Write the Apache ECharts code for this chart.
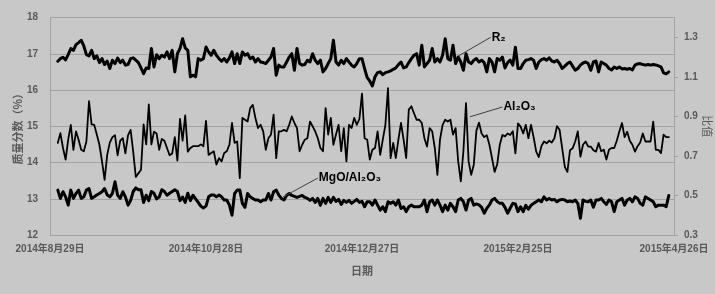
<!DOCTYPE html>
<html><head><meta charset="utf-8">
<script src="https://cdn.jsdelivr.net/npm/echarts@6/dist/echarts.min.js"></script>
<style>html,body{margin:0;padding:0;background:#c8c8c8;}#c{width:715px;height:294px;}</style>
</head><body><div id="c"></div>
<script>
// x axis: days counted from 2014-08-29; data are daily from 2014-09-01 (day 3)
const axisStartDate = '2014-08-29';
const firstDataDate = '2014-09-01';
const xTickLabels = ['2014年8月29日','2014年10月28日','2014年12月27日','2015年2月25日','2015年4月26日'];
const seriesNames = ['R₂', 'Al₂O₃', 'MgO/Al₂O₃'];

// R2 ratio (right axis)
const r2 = [
1.179,1.192,1.199,1.186,1.212,1.243,1.234,1.263,1.273,1.285,1.256,1.212,1.206,1.234,1.192,1.206,1.172,1.192,1.162,1.179,1.142,1.184,1.167,1.195,1.172,1.184,1.159,1.162,
1.192,1.196,1.184,1.172,1.145,1.116,1.145,1.142,1.243,1.15,1.212,1.192,1.209,1.2,1.226,1.192,1.234,1.125,1.217,1.243,1.293,1.246,1.234,1.10,1.108,1.10,1.192,1.184,1.192,1.251,
1.226,1.209,1.234,1.209,1.192,1.179,1.192,1.175,1.196,1.226,1.167,1.217,1.167,1.226,1.209,1.217,1.192,1.2,1.175,1.192,1.175,1.172,1.167,1.184,1.2,1.243,1.108,1.159,1.15,1.15,
1.175,1.2,1.217,1.133,1.243,1.167,1.159,1.162,1.184,1.175,1.217,1.184,1.167,1.184,1.125,1.142,1.167,1.192,1.285,1.175,1.159,1.184,1.167,1.192,1.175,1.159,1.15,1.167,1.192,1.192,
1.142,1.096,1.078,1.054,1.10,1.121,1.125,1.111,1.121,1.125,1.13,1.138,1.145,1.162,1.175,1.145,1.15,1.172,1.192,1.209,1.217,1.159,1.26,1.15,1.167,1.184,1.243,1.175,1.192,1.175,
1.209,1.293,1.192,1.184,1.26,1.167,1.2,1.175,1.133,1.217,1.175,1.167,1.184,1.192,1.175,1.184,1.172,1.125,1.192,1.175,1.125,1.192,1.184,1.2,1.145,1.172,1.184,1.159,1.25,1.142,
1.142,1.167,1.184,1.187,1.192,1.184,1.142,1.175,1.187,1.192,1.184,1.196,1.18,1.175,1.184,1.167,1.142,1.154,1.167,1.175,1.154,1.133,1.142,1.159,1.17,1.175,1.167,1.133,1.175,1.18,
1.125,1.175,1.167,1.159,1.142,1.135,1.15,1.142,1.15,1.14,1.142,1.138,1.142,1.135,1.159,1.165,1.167,1.162,1.159,1.162,1.159,1.162,1.16,1.155,1.15,1.12,1.115,1.125
];

// Al2O3 mass fraction % (left axis)
const al2o3 = [
14.54,14.81,14.40,14.08,14.63,15.04,14.35,14.86,14.63,14.35,14.31,14.58,15.69,15.05,15.04,14.77,14.49,14.03,13.52,14.21,14.55,14.70,14.75,14.20,14.60,14.67,14.25,14.75,
14.9,14.3,13.6,13.7,13.8,15.05,14.5,15.6,14.5,14.85,14.8,14.35,14.65,14.6,14.4,14.2,14.25,14.7,14.05,15.2,14.6,15.3,14.3,14.4,14.45,14.45,14.45,14.5,14.45,15.15,
14.21,14.26,14.31,13.94,14.12,14.03,14.26,14.31,14.49,15.09,14.54,14.58,13.57,15.23,15.18,15.13,15.5,15.59,15.23,14.95,15.04,14.86,14.35,14.67,14.77,15.32,14.12,14.86,14.86,14.9,
14.86,15.04,15.27,15.09,14.95,14.31,14.49,14.63,14.67,15.13,15.0,14.86,14.67,14.4,14.31,15.5,14.77,15.23,14.49,14.77,15.04,14.31,14.95,14.03,15.04,14.95,15.23,15.04,15.2,15.9,
14.67,14.63,14.08,14.35,14.4,14.86,14.21,14.63,15.04,16.05,14.12,14.54,14.12,14.63,15.09,14.63,14.12,15.46,15.55,15.36,15.18,15.18,15.09,14.67,14.44,14.95,14.86,14.4,13.66,14.63,
15.04,15.18,15.13,15.18,14.77,14.95,14.03,13.48,14.31,15.64,14.03,13.66,13.94,14.88,15.1,14.8,14.7,14.75,14.49,14.12,13.74,13.95,14.49,14.76,14.72,14.8,14.76,14.86,14.25,15.08,
14.99,14.8,15.04,14.67,15.04,14.7,14.3,14.15,14.45,14.58,14.53,14.6,14.55,14.67,15.0,14.9,14.39,13.88,13.74,14.34,14.39,14.58,14.86,14.16,14.49,14.58,14.44,14.44,14.34,14.3,
14.54,14.31,14.35,14.08,14.35,14.4,14.4,14.6,14.86,15.09,14.7,14.85,14.6,14.49,14.3,14.45,14.55,14.8,14.58,14.58,14.58,15.13,14.35,14.35,14.26,14.77,14.7,14.7
];

// MgO/Al2O3 ratio (right axis)
const mgoAl2o3 = [
0.527,0.485,0.519,0.493,0.451,0.527,0.485,0.510,0.527,0.485,0.493,0.527,0.535,0.485,0.493,0.502,0.510,0.519,0.535,0.502,0.493,0.510,0.569,0.502,0.485,0.519,0.493,0.451,
0.474,0.52,0.538,0.529,0.529,0.465,0.501,0.474,0.52,0.511,0.483,0.492,0.529,0.52,0.501,0.511,0.52,0.529,0.52,0.474,0.492,0.465,0.511,0.474,0.501,0.483,0.465,0.446,0.437,0.446,
0.493,0.502,0.502,0.493,0.502,0.493,0.477,0.477,0.451,0.40,0.51,0.527,0.527,0.46,0.44,0.51,0.493,0.485,0.477,0.477,0.468,0.477,0.477,0.51,0.477,0.519,0.527,0.502,0.485,0.477,
0.50,0.51,0.50,0.495,0.49,0.495,0.50,0.49,0.485,0.475,0.485,0.465,0.485,0.45,0.485,0.46,0.49,0.465,0.49,0.47,0.48,0.455,0.475,0.465,0.475,0.46,0.47,0.48,0.465,0.47,
0.443,0.468,0.468,0.451,0.477,0.451,0.426,0.443,0.418,0.468,0.46,0.468,0.451,0.477,0.434,0.443,0.418,0.443,0.451,0.443,0.443,0.443,0.451,0.477,0.418,0.468,0.477,0.451,0.477,0.451,
0.418,0.451,0.426,0.46,0.443,0.418,0.477,0.485,0.468,0.426,0.477,0.485,0.451,0.457,0.452,0.44,0.41,0.435,0.452,0.477,0.485,0.469,0.46,0.46,0.44,0.41,0.435,0.46,0.457,0.418,
0.443,0.418,0.45,0.43,0.45,0.46,0.468,0.477,0.468,0.493,0.477,0.485,0.477,0.48,0.468,0.477,0.48,0.477,0.468,0.472,0.468,0.477,0.46,0.385,0.477,0.47,0.468,0.477,0.44,0.477,
0.477,0.485,0.468,0.455,0.477,0.468,0.418,0.468,0.477,0.485,0.451,0.477,0.485,0.468,0.493,0.485,0.46,0.451,0.493,0.485,0.477,0.468,0.443,0.451,0.451,0.451,0.443,0.50
];

// annotation leader lines: [from, to] in axis units (day, value)
const leaders = [
  [[157, 1.205], [169.5, 1.300]],
  [[161.5, 15.26], [174, 15.53]],
  [[89.6, 0.492], [103, 0.588]]
];

const DAY = 86400000;
const parseUTC = s => { const p = s.split('-').map(Number); return Date.UTC(p[0], p[1]-1, p[2]); };
const dayOffset = (parseUTC(firstDataDate) - parseUTC(axisStartDate)) / DAY;
const toPairs = arr => arr.map((v, i) => [dayOffset + i, v]);

const tickFont = {color:'#595959', fontSize:10, fontWeight:'bold', fontFamily:"'Liberation Sans','Noto Sans CJK SC',sans-serif"};
const gray = '#a3a3a3';

function makeSeries(idx, data, yAxisIndex, width) {
  return {
    name: seriesNames[idx], type:'line', yAxisIndex, data: toPairs(data),
    symbol:'none', lineStyle:{color:'#000', width, join:'round', cap:'round'},
    itemStyle:{color:'#000'}, animation:false, z: 3,
    markLine: {
      silent:true, symbol:['none','none'], animation:false,
      lineStyle:{color:'#404040', width:1, type:'solid'},
      label:{show:false},
      data:[[{coord: leaders[idx][0]}, {coord: leaders[idx][1]}]]
    },
    markPoint: {
      silent:true, symbol:'circle', symbolSize:0, animation:false,
      label:{show:true, position:'right', distance:1, formatter: seriesNames[idx],
        color:'#000', fontSize:12, fontWeight:'bold', fontFamily:"'Liberation Sans','DejaVu Sans',sans-serif"},
      data:[{coord: leaders[idx][1]}]
    }
  };
}

const chart = echarts.init(document.getElementById('c'), null, {renderer:'canvas'});
chart.setOption({
  backgroundColor:'#c8c8c8',
  animation:false,
  grid:{left:50, right:41, top:17.5, bottom:59, containLabel:false, outerBoundsMode:'none'},
  xAxis:{
    type:'value', min:0, max:240, interval:60,
    name:'日期', nameLocation:'middle', nameGap:30,
    nameTextStyle:{color:'#595959', fontSize:11, fontWeight:'bold', fontFamily:"'Noto Sans CJK SC',sans-serif"},
    axisLine:{show:true, lineStyle:{color:gray, width:1}},
    axisTick:{show:false},
    splitLine:{show:false},
    axisLabel:Object.assign({margin:9, formatter: v => xTickLabels[Math.round(v/60)] || ''}, tickFont)
  },
  yAxis:[{
    type:'value', min:12, max:18, interval:1, position:'left',
    name:'质量分数（%）', nameLocation:'middle', nameGap:27, nameMoveOverlap:false,
    nameTextStyle:{color:'#595959', fontSize:11, fontWeight:'bold', fontFamily:"'Noto Sans CJK SC',sans-serif"},
    axisLine:{show:true, lineStyle:{color:gray, width:1}},
    axisTick:{show:false},
    splitLine:{show:true, lineStyle:{color:gray, width:1}},
    axisLabel:Object.assign({margin:12}, tickFont)
  },{
    type:'value', min:0.3, max:1.4, interval:0.2, position:'right',
    name:'比值', nameLocation:'middle', nameGap:28, nameRotate:-90, nameMoveOverlap:false,
    nameTextStyle:{color:'#595959', fontSize:11, fontFamily:"'Noto Sans CJK SC',sans-serif"},
    axisLine:{show:true, lineStyle:{color:gray, width:1}},
    axisTick:{show:true, length:4, inside:false, lineStyle:{color:gray}},
    splitLine:{show:false},
    axisLabel:Object.assign({margin:10, showMaxLabel:false, formatter: v => v.toFixed(1)}, tickFont)
  }],
  series:[
    makeSeries(0, r2, 1, 3),
    makeSeries(1, al2o3, 0, 1.8),
    makeSeries(2, mgoAl2o3, 1, 3)
  ]
});
</script></body></html>
